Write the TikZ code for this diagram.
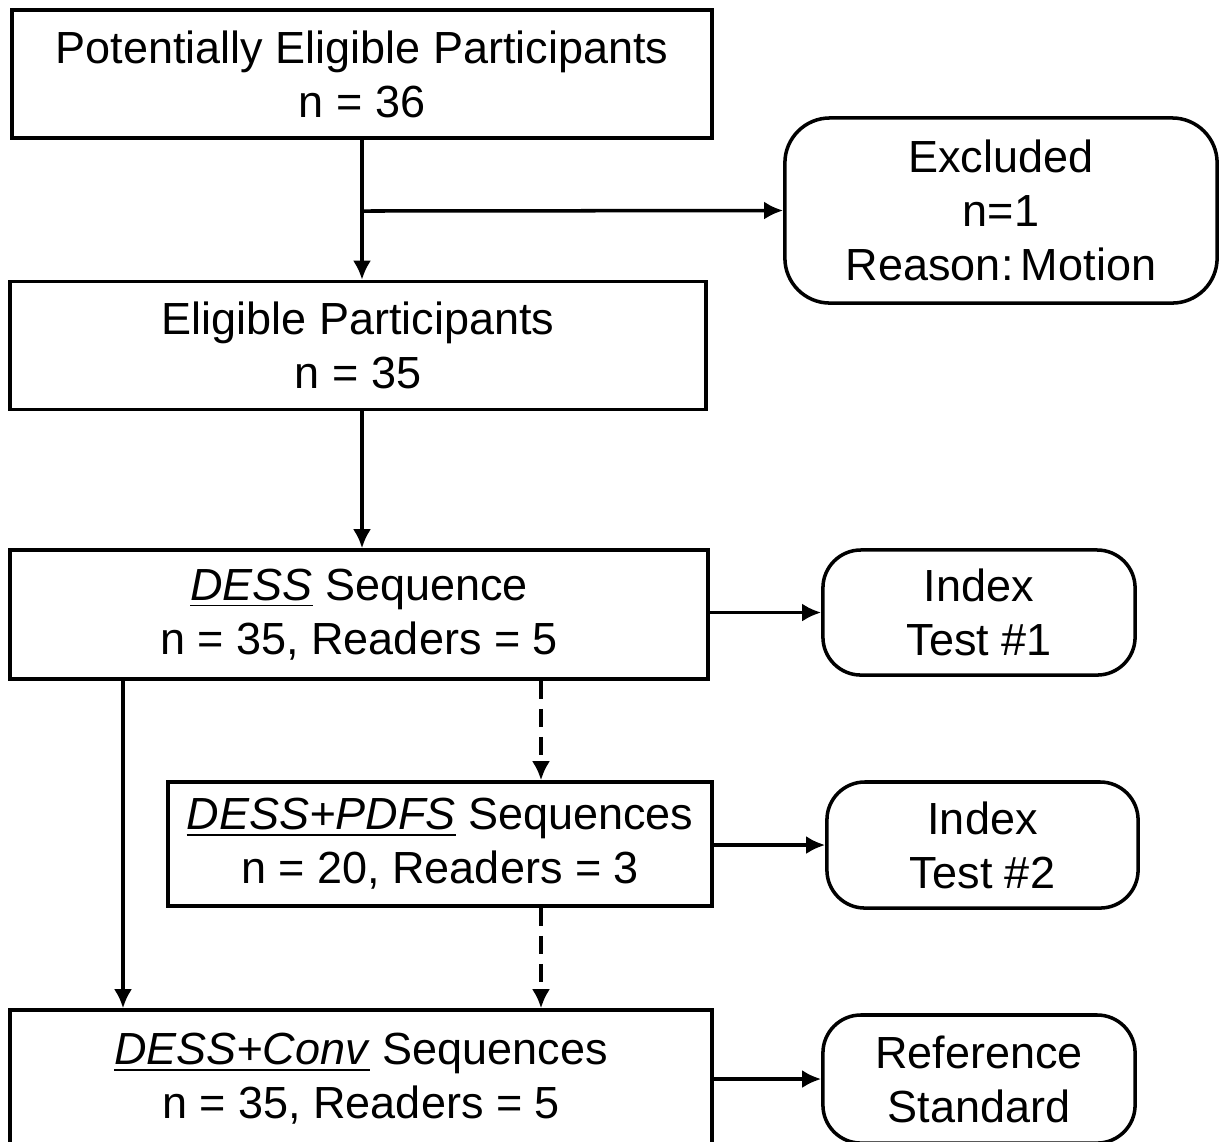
\documentclass[tikz,border=0pt]{standalone}
\usepackage{fontspec}
\setmainfont{Liberation Sans}
\usetikzlibrary{arrows.meta, positioning, calc}

\begin{document}
\begin{tikzpicture}[x=0.01cm,y=-0.01cm,
  % unit = 0.1mm, y grows downwards
  stage/.style={draw,line width=1pt,minimum width=7cm,minimum height=1.28cm,
    inner sep=0pt,font=\fontsize{12.8}{15.4}\selectfont, align=center},
  outcome/.style={draw,line width=1pt,rounded corners=0.38cm,minimum width=3.12cm,
    minimum height=1.26cm,inner sep=0pt,font=\fontsize{12.8}{15.4}\selectfont, align=center},
  arr/.style={-{Latex[length=0.19cm,width=0.18cm]},line width=1pt},
  darr/.style={arr,dash pattern=on 0.18cm off 0.1cm}]

  \useasboundingbox (0,0) rectangle (1219,1141);

  \node[stage](pot) at (362,74){Potentially Eligible Participants\\n = 36};
  \node[outcome,minimum width=4.32cm,minimum height=1.85cm,rounded corners=0.45cm](excl)
    at (1001,210.5){Excluded\\n=1\\Reason:\,Motion};
  \node[stage,minimum width=6.96cm](elig) at (358,345.5){Eligible Participants\\n = 35};
  \node[stage,minimum width=6.98cm,minimum height=1.29cm](dess) at (359,614.5)
    {\underline{\textit{DESS}} Sequence\\n = 35, Readers = 5};
  \node[outcome,minimum height=1.25cm](idxa) at (979,612.5){Index\\Test \#1};
  \node[stage,minimum width=5.44cm,minimum height=1.24cm](pdfs) at (440,844)
    {\underline{\textit{DESS+PDFS}} Sequences\\n = 20, Readers = 3};
  \node[outcome,minimum width=3.11cm](idxb) at (982.5,845){Index\\Test \#2};
  \node[stage,minimum width=7.02cm,minimum height=1.38cm](conv) at (361,1079)
    {\underline{\textit{DESS+Conv}} Sequences\\n = 35, Readers = 5};
  \node[outcome,minimum height=1.28cm](refs) at (979,1079){Reference\\Standard};

  \coordinate (split) at (362,211);
  \coordinate (lft) at (123,0);
  \coordinate (mid) at (541,0);

  \draw[arr](pot.south)--(pot.south |- elig.north);
  \draw[arr](split)--(excl.west);
  \draw[arr](elig.south -| pot.south)--(pot.south |- dess.north);
  \draw[arr](dess.east |- idxa.west)--(idxa.west);
  \draw[arr](lft |- dess.south)--(lft |- conv.north);
  \draw[darr](mid |- dess.south)--(mid |- pdfs.north);
  \draw[darr](mid |- pdfs.south)--(mid |- conv.north);
  \draw[arr](pdfs.east |- idxb.west)--(idxb.west);
  \draw[arr](conv.east |- refs.west)--(refs.west);

\end{tikzpicture}
\end{document}
